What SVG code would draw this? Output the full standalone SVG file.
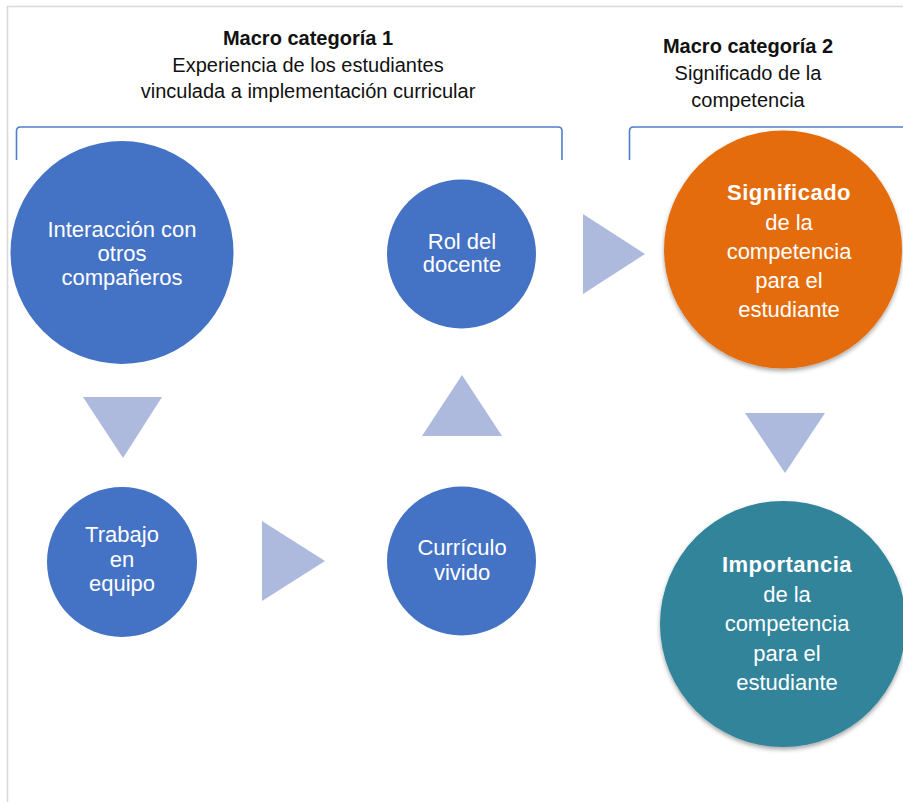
<svg xmlns="http://www.w3.org/2000/svg" width="903" height="802" viewBox="0 0 903 802">
  <style>
    .frame { fill: none; stroke: #dadada; stroke-width: 1.6; }
    .bracket { fill: none; stroke: #4f7fcb; stroke-width: 1.6; }
    .hdr { font-family: "Liberation Sans", Arial, sans-serif; font-size: 20px; fill: #111; text-anchor: middle; }
    .hdr-b { font-weight: bold; }
    .lbl { font-family: "Liberation Sans", Arial, sans-serif; font-size: 22px; fill: #ffffff; text-anchor: middle; }
    .lbl-b { font-weight: bold; letter-spacing: 0.5px; }
    .blue { fill: #4472c4; }
    .orange { fill: #e46c0a; }
    .teal { fill: #31849b; }
    .tri { fill: #aebadd; }
  </style>
  <defs>
    <filter id="shadow" x="-20%" y="-20%" width="140%" height="140%">
      <feDropShadow dx="0" dy="2.5" stdDeviation="2" flood-color="#000" flood-opacity="0.35"/>
    </filter>
  </defs>

  <rect x="0" y="0" width="903" height="802" fill="#ffffff"/>
  <!-- page frame -->
  <path class="frame" d="M7.5,802 V6.5 H903"/>

  <!-- category headers -->
  <g id="header-1">
    <text class="hdr hdr-b" x="308" y="45">Macro categoría 1</text>
    <text class="hdr" x="308" y="72">Experiencia de los estudiantes</text>
    <text class="hdr" x="308" y="98">vinculada a implementación curricular</text>
  </g>
  <g id="header-2">
    <text class="hdr hdr-b" x="748" y="53">Macro categoría 2</text>
    <text class="hdr" x="748" y="80">Significado de la</text>
    <text class="hdr" x="748" y="107">competencia</text>
  </g>

  <!-- brackets over each category -->
  <g id="brackets">
    <path class="bracket" d="M16.5,160 V131 Q16.5,127 20.5,127 H558 Q562,127 562,131 V160"/>
    <path class="bracket" d="M629.5,160 V131 Q629.5,127 633.5,127 H903"/>
  </g>

  <!-- flow arrows -->
  <g id="connectors">
    <polygon class="tri" points="83,397 162,397 123,458"/>
    <polygon class="tri" points="262,521 325,561 262,601"/>
    <polygon class="tri" points="422,436 502,436 462,375"/>
    <polygon class="tri" points="583,214 645,254 583,294"/>
    <polygon class="tri" points="745,413 825,413 785,473"/>
  </g>

  <g id="interaccion">
    <circle class="blue" cx="122" cy="252.5" r="111.5"/>
    <text class="lbl" x="122" y="237">Interacción con</text>
    <text class="lbl" x="122" y="261">otros</text>
    <text class="lbl" x="122" y="284.5">compañeros</text>
  </g>

  <g id="trabajo">
    <circle class="blue" cx="122" cy="562" r="75"/>
    <text class="lbl" x="122" y="542">Trabajo</text>
    <text class="lbl" x="122" y="566.5">en</text>
    <text class="lbl" x="122" y="591">equipo</text>
  </g>

  <g id="curriculo">
    <circle class="blue" cx="461.5" cy="561" r="74.5"/>
    <text class="lbl" x="462" y="555">Currículo</text>
    <text class="lbl" x="462" y="580">vivido</text>
  </g>

  <g id="rol">
    <circle class="blue" cx="461.5" cy="254" r="74.5"/>
    <text class="lbl" x="462" y="249">Rol del</text>
    <text class="lbl" x="462" y="272">docente</text>
  </g>

  <g id="significado">
    <circle class="orange" cx="783" cy="249.5" r="119" filter="url(#shadow)"/>
    <text class="lbl lbl-b" x="789" y="200">Significado</text>
    <text class="lbl" x="789" y="229.5">de la</text>
    <text class="lbl" x="789" y="259">competencia</text>
    <text class="lbl" x="789" y="288">para el</text>
    <text class="lbl" x="789" y="317">estudiante</text>
  </g>

  <g id="importancia">
    <circle class="teal" cx="783" cy="624" r="123" filter="url(#shadow)"/>
    <text class="lbl lbl-b" x="787" y="572">Importancia</text>
    <text class="lbl" x="787" y="602">de la</text>
    <text class="lbl" x="787" y="631">competencia</text>
    <text class="lbl" x="787" y="661">para el</text>
    <text class="lbl" x="787" y="690">estudiante</text>
  </g>
</svg>
